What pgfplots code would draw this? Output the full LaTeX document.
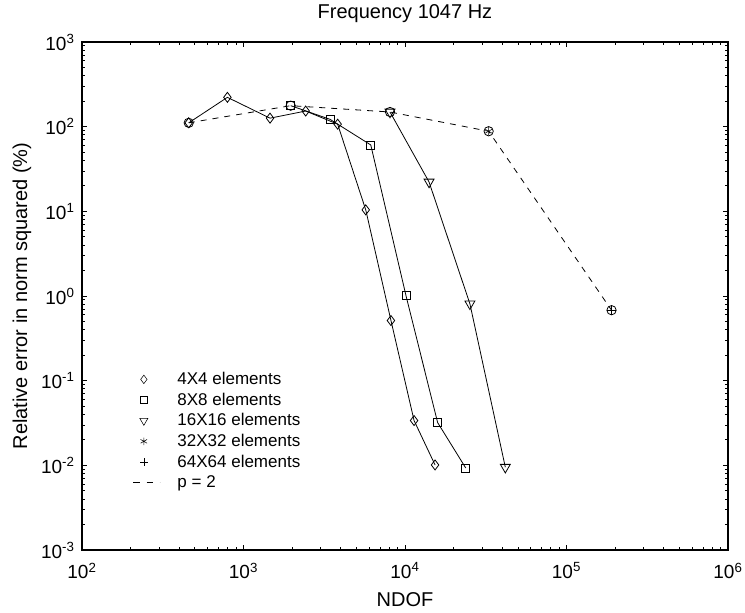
\documentclass[border=0pt]{standalone}
\usepackage{pgfplots}
\pgfplotsset{compat=1.18}
\usepackage{fontspec}
\setmainfont{Liberation Sans}
\begin{document}
\begin{tikzpicture}
\useasboundingbox (-61.5pt,-47.25pt) rectangle (497.25pt,412.5pt);
\begin{axis}[
  at={(0pt,0pt)}, anchor=south west, scale only axis,
  width=484.5pt, height=381pt,
  xmode=log, ymode=log,
  xmin=1e2, xmax=1e6, ymin=1e-3, ymax=1e3,
  axis line style={line width=0.9pt},
  every tick/.style={black, line width=0.6pt},
  major tick length=4pt, minor tick length=2.5pt,
  xtick={1e2,1e3,1e4,1e5,1e6},
  xticklabels={10\textsuperscript{2},10\textsuperscript{3},10\textsuperscript{4},10\textsuperscript{5},10\textsuperscript{6}},
  ytick={1e-3,1e-2,1e-1,1e0,1e1,1e2,1e3},
  yticklabels={10\textsuperscript{-3},10\textsuperscript{-2},10\textsuperscript{-1},10\textsuperscript{0},10\textsuperscript{1},10\textsuperscript{2},10\textsuperscript{3}},
  minor xtick={200,300,400,500,600,700,800,900,2000,3000,4000,5000,6000,7000,8000,9000,20000,30000,40000,50000,60000,70000,80000,90000,200000,300000,400000,500000,600000,700000,800000,900000},
  minor ytick={0.002,0.003,0.004,0.005,0.006,0.007,0.008,0.009,0.02,0.03,0.04,0.05,0.06,0.07,0.08,0.09,0.2,0.3,0.4,0.5,0.6,0.7,0.8,0.9,2,3,4,5,6,7,8,9,20,30,40,50,60,70,80,90,200,300,400,500,600,700,800,900},
  tick label style={font=\fontsize{14.25}{16}\selectfont},
  xticklabel style={yshift=-6pt},
  yticklabel style={xshift=-2pt},
  xlabel={NDOF}, ylabel={Relative error in norm squared (\%)},
  label style={font=\fontsize{15}{17}\selectfont},
  xlabel style={at={(axis description cs:0.5,-0.098)}, anchor=center},
  ylabel style={at={(axis description cs:-0.093,0.5)}, anchor=center},
  legend style={draw=none, fill=none, at={(axis description cs:0.072,0.361)}, anchor=north west,
    font=\fontsize{12.75}{14}\selectfont, row sep=0.75pt},
  legend cell align=left,
]
\addlegendimage{legend image code/.code={\path (0pt,0pt) (31pt,0pt); \draw[black, only marks, mark=diamond, mark size=3.2pt] plot coordinates {(8pt,0pt)};}}
\addlegendentry{4X4 elements}
\addlegendimage{legend image code/.code={\path (0pt,0pt) (31pt,0pt); \draw[black, only marks, mark=square, mark size=2.6pt] plot coordinates {(8pt,0pt)};}}
\addlegendentry{8X8 elements}
\addlegendimage{legend image code/.code={\path (0pt,0pt) (31pt,0pt); \draw[black, only marks, mark=triangle, mark size=3.5pt, mark options={rotate=180}] plot coordinates {(8pt,0pt)};}}
\addlegendentry{16X16 elements}
\addlegendimage{legend image code/.code={\path (0pt,0pt) (31pt,0pt); \draw[black, only marks, mark=asterisk, mark size=2.8pt] plot coordinates {(8pt,0pt)};}}
\addlegendentry{32X32 elements}
\addlegendimage{legend image code/.code={\path (0pt,0pt) (31pt,0pt); \draw[black, only marks, mark=+, mark size=2.8pt] plot coordinates {(8pt,0pt)};}}
\addlegendentry{64X64 elements}
\addlegendimage{legend image code/.code={\path (0pt,0pt) (31pt,0pt); \draw[black, line width=0.6pt, dash pattern=on 5pt off 5pt] (0pt,0pt) -- (20pt,0pt);}}
\addlegendentry{p = 2}

% 4X4
\addplot[black, line width=0.6pt, mark=diamond, mark size=3.75pt, forget plot] coordinates {
(458,111) (795,222) (1459,126) (2427,153) (3828,107) (5714,10.4) (8185,0.513) (11380,0.0338) (15350,0.0101)};
% 8X8
\addplot[black, line width=0.6pt, mark=square, mark size=3pt, forget plot] coordinates {
(1960,177) (3435,122) (6138,60.8) (10140,1.01) (15920,0.032) (23770,0.0093)};
% 16X16
\addplot[black, line width=0.6pt, mark=triangle, mark size=4.3pt, mark options={rotate=180}, forget plot] coordinates {
(8073,149) (14090,22.2) (25230,0.807) (41790,0.0095)};
% 32X32
\addplot[black, only marks, mark=asterisk, mark size=3pt, forget plot] coordinates {(32950,88.3)};
% 64X64
\addplot[black, only marks, mark=+, mark size=3.5pt, forget plot] coordinates {(190000,0.68)};
% p = 2
\addplot[black, line width=0.6pt, dash pattern=on 4.5pt off 4.5pt, forget plot] coordinates {
(458,111) (1960,177) (8073,149) (32950,88.3) (190000,0.68)};
\addplot[black, only marks, mark=o, mark size=3.5pt, line width=0.6pt, forget plot] coordinates {
(458,111) (1960,177) (8073,149) (32950,88.3) (190000,0.68)};
\end{axis}
\node[anchor=base, font=\fontsize{15}{17}\selectfont] at (242.25pt,398.25pt) {Frequency 1047 Hz};
\end{tikzpicture}
\end{document}
